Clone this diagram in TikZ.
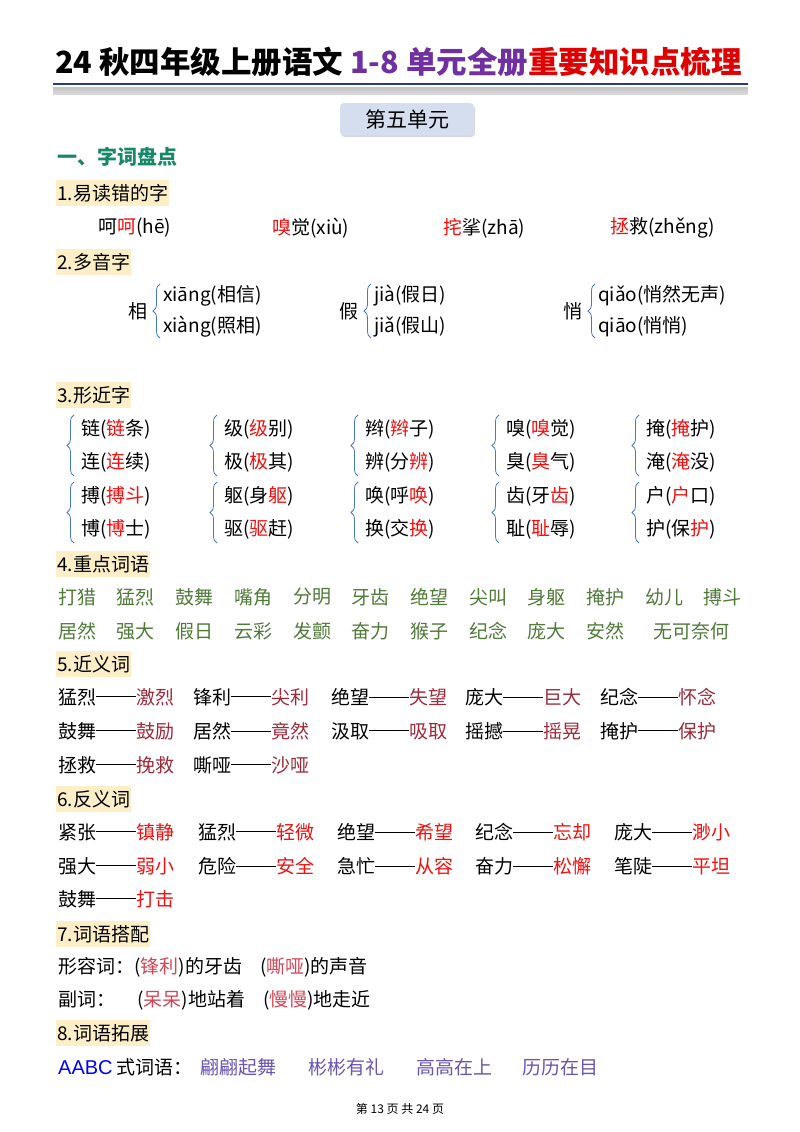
\documentclass[tikz,border=0pt]{standalone}
\usepackage{fontspec}
\setmainfont{Noto Sans CJK SC}
\newfontfamily\latfont{Liberation Sans}
\usetikzlibrary{decorations.pathreplacing,shadows}
\definecolor{ttlpurple}{HTML}{7030A0}
\definecolor{ttlred}{HTML}{E00000}
\definecolor{hdteal}{HTML}{17876A}
\definecolor{hdyellow}{HTML}{FCEFC8}
\definecolor{wgreen}{HTML}{4F7A38}
\definecolor{dred}{HTML}{9E2A3A}
\definecolor{bred}{HTML}{EE1111}
\definecolor{pink}{HTML}{D04858}
\definecolor{lpurple}{HTML}{6A55B0}
\definecolor{brblue}{HTML}{4A78C8}
\definecolor{boxblue}{HTML}{D5DEEE}
\newcommand\fs[1]{\fontsize{#1}{#1}\selectfont}
\newcommand\rd[1]{\textcolor{bred}{#1}}
\newcommand\dsh{\raisebox{0.36em}{\rule{40pt}{0.9pt}}}
\tikzset{
 body/.style={anchor=west,inner sep=0pt,font=\fs{19}},
 hd/.style={anchor=west,fill=hdyellow,inner xsep=1pt,inner ysep=4pt,font=\fs{19}},
 brc/.style={draw=brblue,line width=0.8pt,decorate,decoration={brace,amplitude=7pt}},
}
\begin{document}
\begin{tikzpicture}[x=1pt,y=-1pt]
\useasboundingbox (0,0) rectangle (800,1132);
\fill[white] (0,0) rectangle (800,1132);
% title
\node[anchor=west,inner sep=0pt,font=\fs{30.5}\bfseries] (title) at (55,62) {24 秋四年级上册语文 \textcolor{ttlpurple}{1-8 单元全册}\textcolor{ttlred}{重要知识点梳理}};
\foreach \i/\c in {1/90,2/80,3/70,4/60}{\fill[black!\c!white,opacity=0.25] (53,85+\i*2) rectangle (748,87+\i*2);}
\draw[color={rgb,255:red,40;green,60;blue,120},line width=1.2pt] (53,84) -- (748,84);
% unit box
\node[fill=boxblue,rounded corners=4pt,minimum width=134pt,minimum height=32pt,drop shadow={shadow xshift=1pt,shadow yshift=-2pt,opacity=0.3},font=\fs{21}] (unit) at (407,119) {第五单元};
\node[anchor=west,inner sep=0pt,text=hdteal,font=\fs{20}\bfseries] (sec1) at (57,157) {一、字词盘点};
% 1
\node[hd] (h1) at (56,193) {1.易读错的字};
\node[body] (a1) at (98,228) {呵\rd{呵}(hē)};
\node[body] (a2) at (272,228) {\rd{嗅}觉(xiù)};
\node[body] (a3) at (443,228) {\rd{挓}挲(zhā)};
\node[body] (a4) at (610,228) {\rd{拯}救(zhěng)};
% 2
\node[hd] (h2) at (56,262) {2.多音字};
\foreach \n/\ch/\bx/\ta/\tb in {p1/相/160/xiāng(相信)/xiàng(照相),p2/假/371/jià(假日)/jiǎ(假山),p3/悄/595/qiǎo(悄然无声)/qiāo(悄悄)}{
  \node[anchor=east,inner sep=0pt,font=\fs{19}] (\n c) at (\bx-12,311) {\ch};
  \draw[brc] (\bx,338) -- (\bx,284);
  \node[body] (\n a) at (\bx+3,296) {\ta};
  \node[body] (\n b) at (\bx+3,327) {\tb};
}
% 3
\node[hd] (h3) at (56,395) {3.形近字};
\foreach \n/\x/\ya/\yb/\ta/\tb in {
 s1/74/429/462/链(\rd{链}条)/连(\rd{连}续),
 s2/217/429/462/级(\rd{级}别)/极(\rd{极}其),
 s3/358/429/462/辫(\rd{辫}子)/辨(分\rd{辨}),
 s4/499/429/462/嗅(\rd{嗅}觉)/臭(\rd{臭}气),
 s5/639/429/462/掩(\rd{掩}护)/淹(\rd{淹}没),
 s6/74/496/529/搏(\rd{搏斗})/博(\rd{博}士),
 s7/217/496/529/躯(身\rd{躯})/驱(\rd{驱}赶),
 s8/358/496/529/唤(呼\rd{唤})/换(交\rd{换}),
 s9/499/496/529/齿(牙\rd{齿})/耻(\rd{耻}辱),
 s10/639/496/529/户(\rd{户}口)/护(保\rd{护})}{
  \draw[brc] (\x,\yb+14) -- (\x,\ya-14);
  \node[body] (\n a) at (\x+7,\ya) {\ta};
  \node[body] (\n b) at (\x+7,\yb) {\tb};
}
% 4
\node[hd] (h4) at (56,564) {4.重点词语};
\foreach \w [count=\i] in {打猎,猛烈,鼓舞,嘴角,分明,牙齿,绝望,尖叫,身躯,掩护,幼儿,搏斗}{
  \node[body,text=wgreen] (k\i) at (58+58.7*\i-58.7,597) {\w};}
\foreach \w [count=\i] in {居然,强大,假日,云彩,发颤,奋力,猴子,纪念,庞大,安然}{
  \node[body,text=wgreen] (m\i) at (58+58.7*\i-58.7,631) {\w};}
\node[body,text=wgreen] (m11) at (653,631) {无可奈何};
% 5
\node[hd] (h5) at (56,664) {5.近义词};
\foreach \n/\x/\y/\a/\b in {
 j1/58/697/猛烈/激烈,j2/193/697/锋利/尖利,j3/331/697/绝望/失望,j4/465/697/庞大/巨大,j5/600/697/纪念/怀念,
 j6/58/731/鼓舞/鼓励,j7/193/731/居然/竟然,j8/331/731/汲取/吸取,j9/465/731/摇撼/摇晃,j10/600/731/掩护/保护,
 j11/58/765/拯救/挽救,j12/193/765/嘶哑/沙哑}{
  \node[body] (\n) at (\x,\y) {\a\dsh\textcolor{dred}{\b}};}
% 6
\node[hd] (h6) at (56,799) {6.反义词};
\foreach \n/\x/\y/\a/\b in {
 f1/58/832/紧张/镇静,f2/198/832/猛烈/轻微,f3/337/832/绝望/希望,f4/475/832/纪念/忘却,f5/614/832/庞大/渺小,
 f6/58/866/强大/弱小,f7/198/866/危险/安全,f8/337/866/急忙/从容,f9/475/866/奋力/松懈,f10/614/866/笔陡/平坦,
 f11/58/899/鼓舞/打击}{
  \node[body] (\n) at (\x,\y) {\a\dsh\textcolor{bred}{\b}};}
% 7
\node[hd] (h7) at (56,934) {7.词语搭配};
\node[body] (d1) at (58,967) {形容词：(\textcolor{pink}{锋利})的牙齿\hspace{18pt}(\textcolor{pink}{嘶哑})的声音};
\node[body] (d2) at (58,1000) {副词：\hspace{22pt}(\textcolor{pink}{呆呆})地站着\hspace{18pt}(\textcolor{pink}{慢慢})地走近};
% 8
\node[hd] (h8) at (56,1033) {8.词语拓展};
\node[body] (e0) at (58,1067) {{\latfont\fs{20}\textcolor{blue}{AABC}} 式词语：};
\foreach \w/\x [count=\i] in {翩翩起舞/200,彬彬有礼/308,高高在上/416,历历在目/522}{
  \node[body,text=lpurple] (e\i) at (\x,1067) {\w};}
\node[inner sep=0pt,font=\fs{12}] (foot) at (400,1109) {第 13 页 共 24 页};
\end{tikzpicture}
\end{document}
